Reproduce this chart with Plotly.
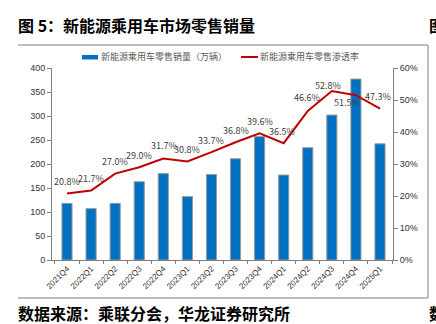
import plotly.graph_objects as go

quarters = ["2021Q4", "2022Q1", "2022Q2", "2022Q3", "2022Q4", "2023Q1", "2023Q2",
            "2023Q3", "2023Q4", "2024Q1", "2024Q2", "2024Q3", "2024Q4", "2025Q1"]
sales = [118, 107, 118, 163, 180, 132, 178, 211, 257, 177, 234, 302, 377, 242]
penetration = [20.8, 21.7, 27.0, 29.0, 31.7, 30.8, 33.7, 36.8, 39.6, 36.5, 46.6, 52.8, 51.5, 47.3]
# label offsets in pixels (style only)
label_dy = [12, 12, 12, 12, 13, 12, 12, 12, 12, 12, 13, 6, -7, 12]
label_dx = [0, 0, 0, 0, 1, 0, 0, 0, 0, -2, -1, -4, -9, -2]

title = "图 5：新能源乘用车市场零售销量"
source = "数据来源：乘联分会，华龙证券研究所"
bar_name = "新能源乘用车零售销量（万辆）"
line_name = "新能源乘用车零售渗透率"

CJK = "Noto Sans CJK SC"
W, H = 436, 324
ml, mr, mt, mb = 52, 43, 68, 64
PW, PH = W - ml - mr, H - mt - mb

def px_x(p):
    return (p - ml) / PW

def px_y(p):
    return (H - mb - p) / PH

fig = go.Figure()
fig.add_trace(go.Bar(
    x=quarters, y=sales, name=bar_name,
    marker=dict(color="#0070C0", line=dict(color="#9A9A9A", width=1)),
    width=0.42, yaxis="y",
))
fig.add_trace(go.Scatter(
    x=quarters, y=penetration, name=line_name, yaxis="y2",
    mode="lines", line=dict(color="#C00000", width=2),
    cliponaxis=False,
))

for q, v, dy, dx in zip(quarters, penetration, label_dy, label_dx):
    fig.add_annotation(
        x=q, y=v, xref="x", yref="y2", text=f"{v:.1f}%", showarrow=False,
        xanchor="center", yanchor="middle", yshift=dy, xshift=dx,
        font=dict(family=CJK, size=9, color="#404040"),
    )

fig.update_layout(
    width=W, height=H,
    margin=dict(l=ml, r=mr, t=mt, b=mb),
    paper_bgcolor="white", plot_bgcolor="white",
    showlegend=False,
    xaxis=dict(
        type="category", showline=True, linecolor="#808080", linewidth=1,
        ticks="outside", ticklen=3, tickcolor="#808080", tickson="boundaries",
        tickangle=-45, tickfont=dict(family="Liberation Sans", size=8, color="#333333"),
        showgrid=False, zeroline=False,
    ),
    yaxis=dict(
        range=[0, 400], dtick=50, showline=True, linecolor="#808080", linewidth=1,
        ticks="outside", ticklen=4, tickcolor="#808080",
        tickfont=dict(family="Liberation Sans", size=9, color="#333333"),
        showgrid=False, zeroline=False,
    ),
    yaxis2=dict(
        range=[0, 60], dtick=10, overlaying="y", side="right", ticksuffix="%",
        showline=True, linecolor="#808080", linewidth=1,
        ticks="outside", ticklen=4, tickcolor="#808080",
        tickfont=dict(family="Liberation Sans", size=9, color="#333333"),
        showgrid=False, zeroline=False,
    ),
)

# frame lines
for (x0, y0, x1, y1) in [(18, 45, 428, 45), (18, 298, 428, 298), (428, 45, 428, 298)]:
    fig.add_shape(type="line", xref="paper", yref="paper",
                  x0=px_x(x0), x1=px_x(x1), y0=px_y(y0), y1=px_y(y1),
                  line=dict(color="#7F7F7F", width=1))

# legend (drawn)
fig.add_shape(type="rect", xref="paper", yref="paper",
              x0=px_x(82), x1=px_x(98), y0=px_y(55), y1=px_y(59.5),
              fillcolor="#0070C0", line=dict(width=0))
fig.add_shape(type="line", xref="paper", yref="paper",
              x0=px_x(241), x1=px_x(258), y0=px_y(57), y1=px_y(57),
              line=dict(color="#C00000", width=2))

def add_text(txt, xpx, ypx, size, bold=True, color="#000000"):
    fig.add_annotation(
        text=f"<b>{txt}</b>" if bold else txt, showarrow=False,
        xref="paper", yref="paper", x=px_x(xpx), y=px_y(ypx),
        xanchor="left", yanchor="middle", borderpad=0,
        font=dict(family=CJK, size=size, color=color),
    )

add_text(bar_name, 100, 57, 9, bold=False, color="#595959")
add_text(line_name, 259, 57, 9, bold=False, color="#595959")
add_text(title, 17, 25, 16)
add_text("图", 428, 25, 16)
add_text(source, 17, 313, 16)
add_text("数", 428, 313, 16)

fig.write_html("out.html")
